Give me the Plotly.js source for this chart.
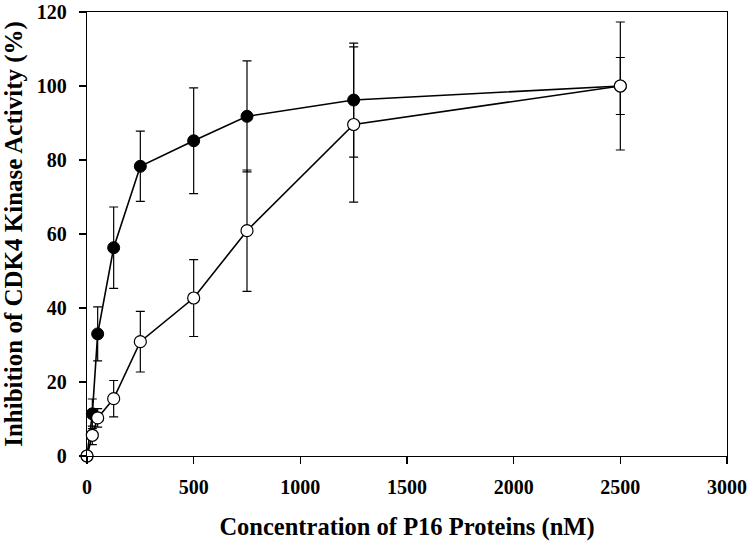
<!DOCTYPE html>
<html>
<head>
<meta charset="utf-8">
<script src="https://cdn.plot.ly/plotly-3.0.1.min.js"></script>
<style>html,body{margin:0;padding:0;background:#fff;}#chart{width:750px;height:542px;}</style>
</head>
<body>
<div id="chart"></div>
<script>
var conc = [0, 25, 50, 125, 250, 500, 750, 1250, 2500];
var filledY = [0, 11.4, 33.0, 56.3, 78.3, 85.2, 91.8, 96.2, 100];
var filledErr = [0, 4, 7.3, 11, 9.5, 14.3, 15, 15.4, 7.7];
var openY = [0, 5.6, 10.3, 15.5, 30.9, 42.7, 60.9, 89.6, 100];
var openErr = [0, 2.5, 2.5, 4.9, 8.2, 10.4, 16.4, 21, 17.3];
var xTicks = [0, 500, 1000, 1500, 2000, 2500, 3000];
var yTicks = [0, 20, 40, 60, 80, 100, 120];

var serif = "Liberation Serif, Times New Roman, serif";

var traces = [
  {
    x: conc, y: filledY, type: 'scatter', mode: 'lines+markers', cliponaxis: false,
    line: {color: '#000', width: 1.6},
    marker: {symbol: 'circle', size: 12, color: '#000', line: {color: '#000', width: 1}},
    error_y: {type: 'data', array: filledErr, visible: true, color: '#000', thickness: 1.2, width: 4.5}
  },
  {
    x: conc, y: openY, type: 'scatter', mode: 'lines+markers', cliponaxis: false,
    line: {color: '#000', width: 1.6},
    marker: {symbol: 'circle', size: 12, color: '#fff', line: {color: '#000', width: 1.2}},
    error_y: {type: 'data', array: openErr, visible: true, color: '#000', thickness: 1.2, width: 4.5}
  }
];

var layout = {
  width: 750, height: 542,
  margin: {l: 87, r: 23, t: 12, b: 86},
  paper_bgcolor: '#fff', plot_bgcolor: '#fff',
  showlegend: false,
  font: {family: serif, color: '#000'},
  xaxis: {
    range: [0, 3000], tickvals: xTicks, ticktext: xTicks.map(String),
    showgrid: false, zeroline: false, showline: true, linecolor: '#000', linewidth: 1.2,
    mirror: true, ticks: 'outside', ticklen: 7, tickcolor: '#000', tickwidth: 1.2,
    ticklabelstandoff: 6, ticklabeloverflow: 'allow',
    tickfont: {family: serif, size: 20, weight: 'bold', color: '#000'},
    title: {text: 'Concentration of P16 Proteins (nM)', font: {family: serif, size: 24.5, weight: 'bold', color: '#000'}, standoff: 20}
  },
  yaxis: {
    range: [0, 120], tickvals: yTicks, ticktext: yTicks.map(String),
    showgrid: false, zeroline: false, showline: true, linecolor: '#000', linewidth: 1.2,
    mirror: true, ticks: 'outside', ticklen: 7, tickcolor: '#000', tickwidth: 1.2,
    ticklabelstandoff: 8, ticklabeloverflow: 'allow',
    tickfont: {family: serif, size: 20, weight: 'bold', color: '#000'},
    title: {text: 'Inhibition of CDK4 Kinase Activity (%)', font: {family: serif, size: 25, weight: 'bold', color: '#000'}, standoff: 8}
  }
};

Plotly.newPlot('chart', traces, layout, {displayModeBar: false, staticPlot: true});
</script>
</body>
</html>
